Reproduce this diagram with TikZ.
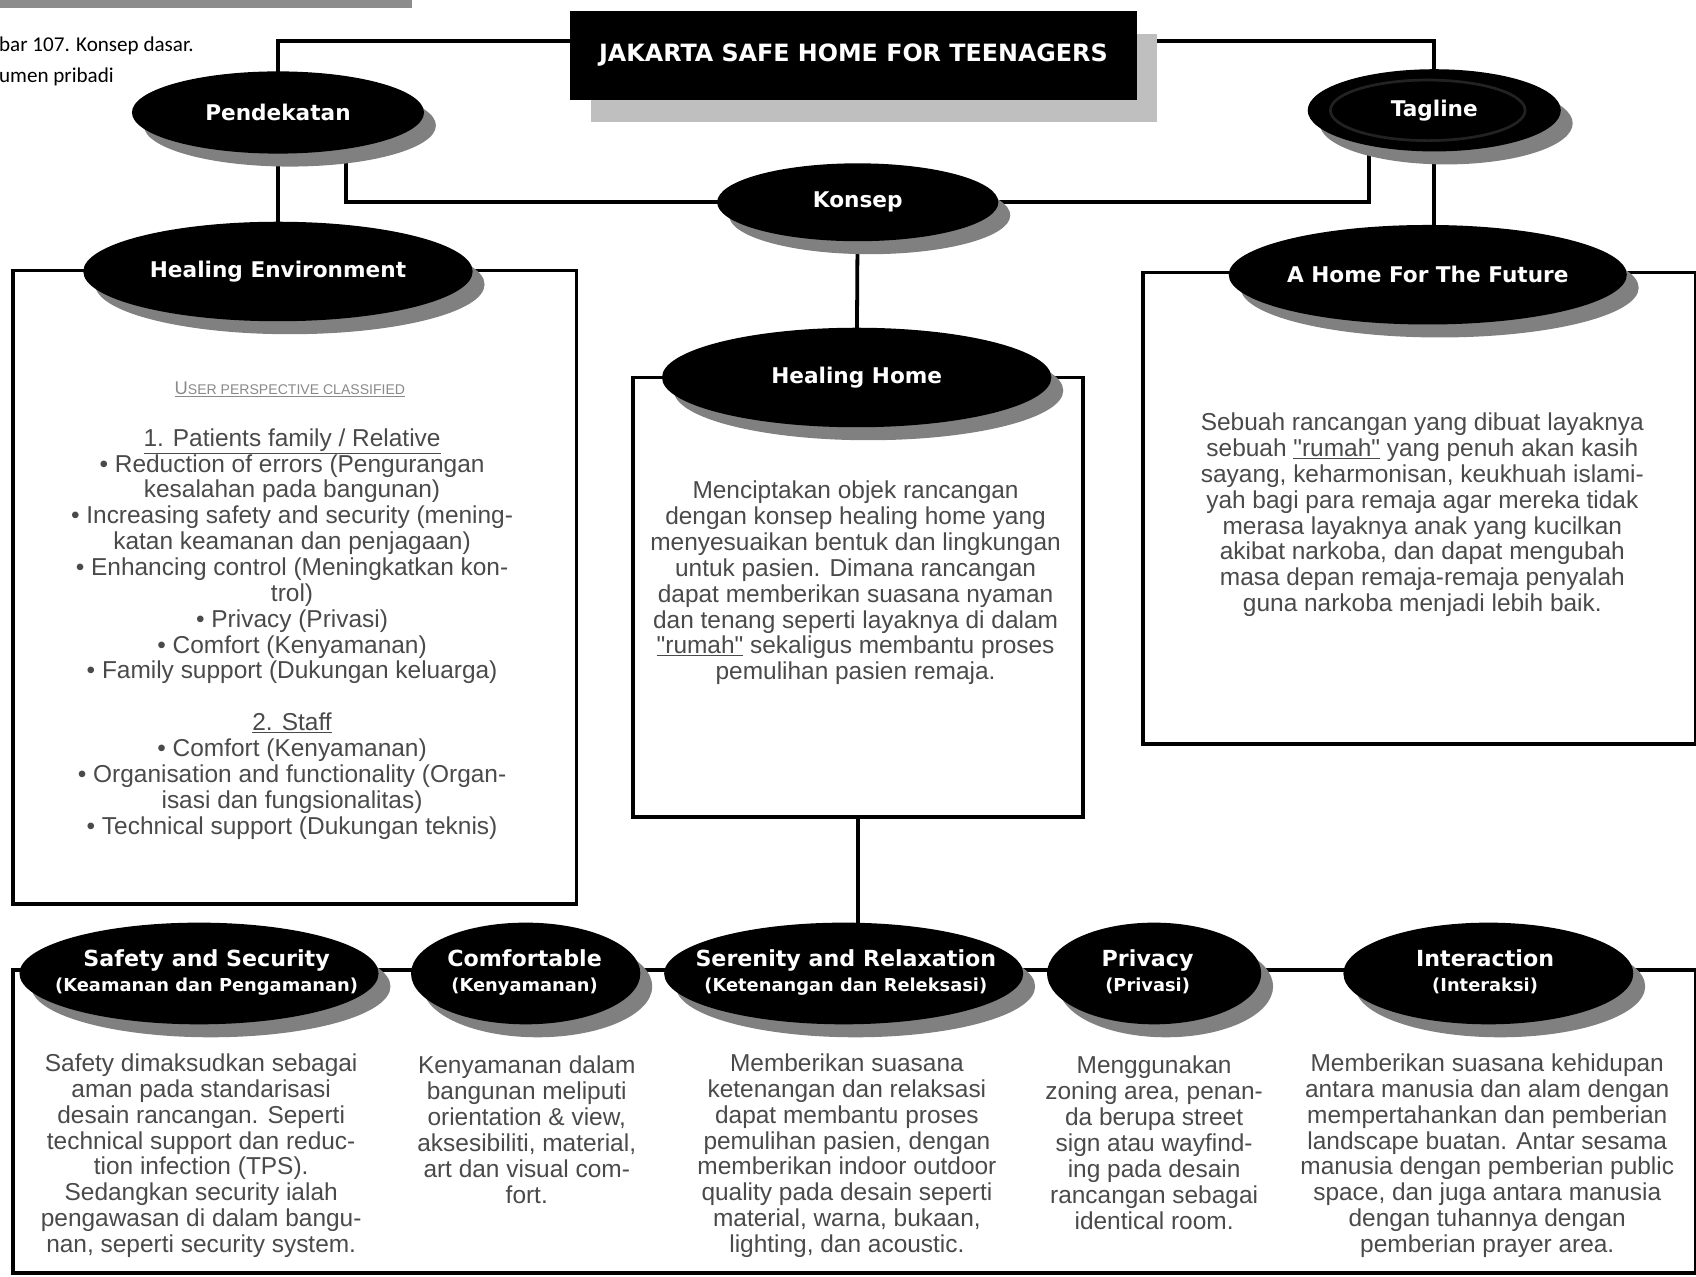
\documentclass[tikz,border=0pt]{standalone}
\usepackage{fontspec}
\setmainfont{Liberation Sans}[Ligatures=TeXOff]
\newfontfamily\headfont{DejaVu Sans}
\newfontfamily\capfont{Carlito}
\usetikzlibrary{shapes.geometric,calc,shadows}
\definecolor{shadowgray}{HTML}{808080}
\definecolor{titleshadow}{HTML}{BFBFBF}
\definecolor{bodygray}{HTML}{4A4A4A}
\definecolor{lightgray2}{HTML}{8A8A8A}
\definecolor{topbar}{HTML}{8C8C8C}
\definecolor{ringgray}{HTML}{222222}
\pgfdeclarelayer{bgzero}
\pgfdeclarelayer{background}
\pgfsetlayers{bgzero,background,main}
\begin{document}
\begin{tikzpicture}[x=1pt,y=-1pt,
  conn/.style={line width=3.5pt},
  frame/.style={draw,line width=3.5pt,inner sep=0pt},
  shad/.style={drop shadow={shadow xshift=11pt,shadow yshift=-12pt,fill=shadowgray,opacity=1}},
  oval/.style={ellipse,fill=black,text=white,inner sep=0pt,shad,
    font=\headfont\bfseries\fontsize{20}{24}\selectfont},
  ovaltwo/.style={ellipse,fill=black,inner sep=0pt,shad},
  ovtitle/.style={anchor=base,text=white,inner sep=0pt,font=\headfont\bfseries\fontsize{20.5}{24}\selectfont},
  ovsub/.style={anchor=base,text=white,inner sep=0pt,font=\headfont\bfseries\fontsize{16.5}{20}\selectfont},
  body/.style={text=bodygray,align=center,inner sep=0pt,
    font=\fontsize{22.6}{23.9}\selectfont},
  captext/.style={anchor=west,inner sep=0pt,font=\capfont\fontsize{19.5}{22}\selectfont}
]
\begin{pgfonlayer}{bgzero}
\fill[white] (0,0) rectangle (1568,1180);
\end{pgfonlayer}
\useasboundingbox (0,0) rectangle (1568,1180);
\clip (0,0) rectangle (1568,1180);

% top bar and caption
\fill[topbar] (0,0) rectangle (381,7);
\node[captext] (cap1) at (-1,42) {bar 107. Konsep dasar.};
\node[captext] (cap2) at (-1,71) {umen pribadi};

% title
\node[fill=black,text=white,minimum width=524pt,minimum height=82pt,inner sep=0pt,
  drop shadow={shadow xshift=19pt,shadow yshift=-21pt,fill=titleshadow,opacity=1},
  font=\headfont\bfseries\fontsize{22}{28}\selectfont] (title) at (789,51) {JAKARTA SAFE HOME FOR TEENAGERS};

% boxes
\node[frame,minimum width=521pt,minimum height=586pt] (lbox) at (272.5,543) {};
\node[frame,minimum width=511pt,minimum height=436pt] (rbox) at (1312.5,470) {};
\node[frame,minimum width=416pt,minimum height=406pt] (mbox) at (793,552) {};
\node[frame,minimum width=1556pt,minimum height=280pt] (bbox) at (790,1037) {};

% top ellipses
\node[oval,minimum width=270pt,minimum height=76pt] (pend) at (257,104) {Pendekatan};
\node[oval,minimum width=234pt,minimum height=76pt] (tag) at (1326,102) {};
\draw[ringgray,line width=2.5pt] ($(tag.center)+(-6,0)$) ellipse [x radius=90pt,y radius=28pt];
\node[text=white,inner sep=0pt,font=\headfont\bfseries\fontsize{20}{24}\selectfont] (tagl) at (tag.center) {Tagline};
\node[oval,minimum width=260pt,minimum height=72pt] (kon) at (793,187) {Konsep};
\node[oval,minimum width=360pt,minimum height=92pt] (henv) at (257,251) {Healing Environment};
\node[oval,minimum width=360pt,minimum height=92pt] (hhome) at (792,349) {Healing Home};
\node[oval,minimum width=362pt,minimum height=92pt] (ahome) at (1320,254) {A Home For The Future};

% bottom ellipses
\node[ovaltwo,minimum width=332pt,minimum height=94pt] (safe) at (184,900) {};
\node[ovaltwo,minimum width=212pt,minimum height=94pt] (comf) at (486,900) {};
\node[ovaltwo,minimum width=332pt,minimum height=94pt] (seren) at (780,900) {};
\node[ovaltwo,minimum width=198pt,minimum height=94pt] (priv) at (1067,900) {};
\node[ovaltwo,minimum width=268pt,minimum height=94pt] (inter) at (1376,900) {};

\node[ovtitle] (safet) at (191,894) {Safety and Security};
\node[ovsub] (safes) at (191,917) {(Keamanan dan Pengamanan)};
\node[ovtitle] (comft) at (485,894) {Comfortable};
\node[ovsub] (comfs) at (485,917) {(Kenyamanan)};
\node[ovtitle] (serent) at (782,894) {Serenity and Relaxation};
\node[ovsub] (serens) at (782,917) {(Ketenangan dan Releksasi)};
\node[ovtitle] (privt) at (1061,894) {Privacy};
\node[ovsub] (privs) at (1061,917) {(Privasi)};
\node[ovtitle] (intert) at (1373,894) {Interaction};
\node[ovsub] (inters) at (1373,917) {(Interaksi)};

% connectors
\begin{pgfonlayer}{background}
\draw[conn] ([yshift=13pt]title.west) -| (pend.center);
\draw[conn] ([yshift=13pt]title.east) -| (tag.center);
\draw[conn] (pend.center) -- (henv.center);
\draw[conn] (kon.center) -| ([xshift=63pt]pend.center);
\draw[conn] (kon.center) -| ([xshift=-60pt]tag.center);
\draw[conn] (tag.center) -- (tag.center |- ahome.center);
\draw[conn] (kon.center) -- (hhome.center);
\draw[conn] (mbox.south) -- (mbox.south |- seren.center);
\end{pgfonlayer}

% left box text
\node[text=lightgray2,inner sep=0pt] (upc) at (268,360)
  {\underline{{\fontsize{17}{20}\selectfont U}{\fontsize{13}{16}\selectfont SER PERSPECTIVE CLASSIFIED}}};
\node[body] (ltxt) at (270,586) {\underline{1. Patients family / Relative}\\
• Reduction of errors (Pengurangan\\
kesalahan pada bangunan)\\
• Increasing safety and security (mening-\\
katan keamanan dan penjagaan)\\
• Enhancing control (Meningkatkan kon-\\
trol)\\
• Privacy (Privasi)\\
• Comfort (Kenyamanan)\\
• Family support (Dukungan keluarga)\\[23.9pt]
\underline{2. Staff}\\
• Comfort (Kenyamanan)\\
• Organisation and functionality (Organ-\\
isasi dan fungsionalitas)\\
• Technical support (Dukungan teknis)};

% middle box text
\node[body] (mtxt) at (791,539) {Menciptakan objek rancangan\\
dengan konsep healing home yang\\
menyesuaikan bentuk dan lingkungan\\
untuk pasien. Dimana rancangan\\
dapat memberikan suasana nyaman\\
dan tenang seperti layaknya di dalam\\
\underline{"rumah"} sekaligus membantu proses\\
pemulihan pasien remaja.};

% right box text
\node[body] (rtxt) at (1315,476) {Sebuah rancangan yang dibuat layaknya\\
sebuah \underline{"rumah"} yang penuh akan kasih\\
sayang, keharmonisan, keukhuah islami-\\
yah bagi para remaja agar mereka tidak\\
merasa layaknya anak yang kucilkan\\
akibat narkoba, dan dapat mengubah\\
masa depan remaja-remaja penyalah\\
guna narkoba menjadi lebih baik.};

% bottom texts
\node[body] (stxt) at (186,1068.5) {Safety dimaksudkan sebagai\\
aman pada standarisasi\\
desain rancangan. Seperti\\
technical support dan reduc-\\
tion infection (TPS).\\
Sedangkan security ialah\\
pengawasan di dalam bangu-\\
nan, seperti security system.};
\node[body] (ctxt) at (487,1044.5) {Kenyamanan dalam\\
bangunan meliputi\\
orientation \& view,\\
aksesibiliti, material,\\
art dan visual com-\\
fort.};
\node[body] (setxt) at (783,1068.5) {Memberikan suasana\\
ketenangan dan relaksasi\\
dapat membantu proses\\
pemulihan pasien, dengan\\
memberikan indoor outdoor\\
quality pada desain seperti\\
material, warna, bukaan,\\
lighting, dan acoustic.};
\node[body] (ptxt) at (1067,1056.5) {Menggunakan\\
zoning area, penan-\\
da berupa street\\
sign atau wayfind-\\
ing pada desain\\
rancangan sebagai\\
identical room.};
\node[body] (itxt) at (1375,1068.5) {Memberikan suasana kehidupan\\
antara manusia dan alam dengan\\
mempertahankan dan pemberian\\
landscape buatan. Antar sesama\\
manusia dengan pemberian public\\
space, dan juga antara manusia\\
dengan tuhannya dengan\\
pemberian prayer area.};
\end{tikzpicture}
\end{document}
